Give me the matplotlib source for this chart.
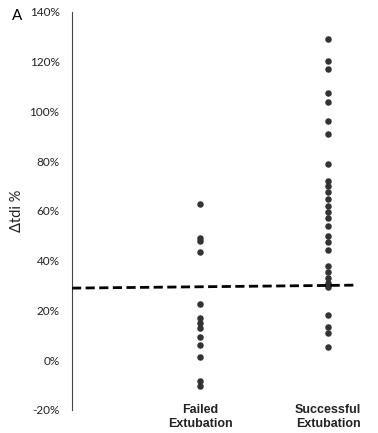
import matplotlib
matplotlib.use("Agg")
import matplotlib.pyplot as plt

categories = ["Failed\nExtubation", "Successful\nExtubation"]
failed = [63, 49, 48, 43.5, 22.5, 17, 15, 13, 9.5, 6, 1.5, -8.5, -10.5]
successful = [129, 120.5, 117, 107.5, 104, 96, 91, 79, 72, 70, 67.5, 65, 62,
              59.5, 57, 54, 50, 47.5, 44.5, 38, 35.5, 33, 31, 29.5, 18, 13.5,
              11, 5.5]
yticks = [-20, 0, 20, 40, 60, 80, 100, 120, 140]
threshold = [29, 30.2]

fig = plt.figure(figsize=(3.78, 4.33), dpi=100)
ax = fig.add_axes([72/378, 23/433, 297/378, 398/433])

dot = "#333333"
for i, vals in enumerate([failed, successful]):
    ax.scatter([i + 1] * len(vals), vals, s=22, color=dot, zorder=3, linewidths=0)

ax.plot([0, 2.23], threshold, color="black", lw=2.0, dashes=(3.3, 1.6), zorder=4)

ax.set_xlim(0, 2.32)
ax.set_ylim(-20, 140)
ax.set_yticks(yticks)
ax.set_yticklabels([f"{t}%" for t in yticks], fontfamily="Lato", fontsize=8.5, color="#222222")
ax.tick_params(axis="y", length=0, pad=9)
ax.set_xticks([1, 2])
ax.set_xticklabels(categories, fontfamily="Liberation Sans", fontweight="bold", fontsize=9, color="#222222")
ax.tick_params(axis="x", length=0, pad=-4)
for s in ["top", "right", "bottom"]:
    ax.spines[s].set_visible(False)
ax.spines["left"].set_color("#444444")
ax.spines["left"].set_linewidth(0.8)

ax.set_ylabel("Δtdi %", fontfamily="Lato", fontsize=10.5, color="#222222")
ax.yaxis.set_label_coords(-48/297, 0.5)
fig.text(12/378, 1 - 16/433, "A", fontfamily="Lato", fontsize=11, ha="left", va="center")

fig.savefig("out.png", dpi=100)
